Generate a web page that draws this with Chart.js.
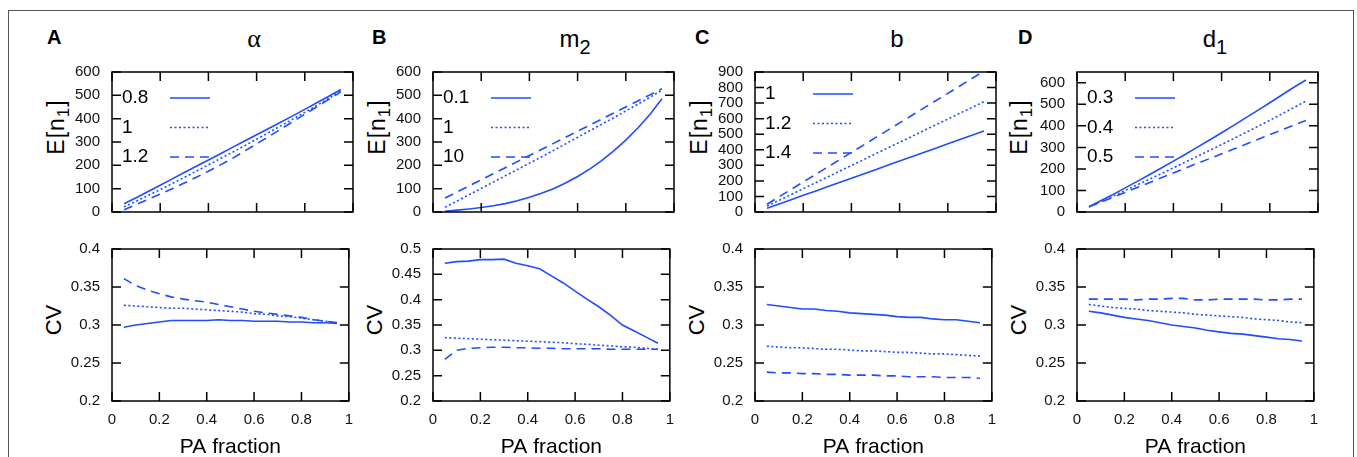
<!DOCTYPE html>
<html>
<head>
<meta charset="utf-8">
<title>E[n1] and CV against PA fraction</title>
<script src="https://cdn.jsdelivr.net/npm/chart.js@4.4.1/dist/chart.umd.min.js"></script>
<style>
  body { margin: 0; background: #fff; font-family: 'Liberation Sans', Arial, sans-serif; }
  #fig { position: relative; width: 1357px; height: 457px; overflow: hidden; }
  .frame { position: absolute; left: 8px; top: 10px; width: 1346px; height: 480px; border: 1.5px solid #555; box-sizing: border-box; }
  .plot { position: absolute; }
  .letter { position: absolute; top: 27px; font-weight: bold; font-size: 20px; line-height: 20px; }
  .ptitle { position: absolute; top: 27px; font-size: 24px; line-height: 24px; transform: translateX(-50%); white-space: nowrap; }
  .ptitle sub { font-size: 20px; vertical-align: -7px; line-height: 0; }
  .greek { font-family: 'Liberation Serif', 'DejaVu Serif', serif; font-size: 26px; }
  .ylab { position: absolute; font-size: 22px; line-height: 22px; white-space: nowrap;
          transform: translate(-50%, -50%) rotate(-90deg); }
  .ylab.mean { font-size: 23px; letter-spacing: 1px; }
  .ylab sub { font-size: 17px; vertical-align: -5px; line-height: 0; }
</style>
</head>
<body>
<div id="fig">
  <div class="frame"></div>

  <div class="letter" style="left:47px">A</div>
  <div class="letter" style="left:372px">B</div>
  <div class="letter" style="left:695px">C</div>
  <div class="letter" style="left:1018px">D</div>

  <div class="ptitle greek" style="left:254px">α</div>
  <div class="ptitle" style="left:575px">m<sub>2</sub></div>
  <div class="ptitle" style="left:897px">b</div>
  <div class="ptitle" style="left:1215px">d<sub>1</sub></div>

  <div class="ylab mean" style="left:56px; top:127px">E[n<sub>1</sub>]</div>
  <div class="ylab mean" style="left:377px; top:127px">E[n<sub>1</sub>]</div>
  <div class="ylab mean" style="left:699px; top:127px">E[n<sub>1</sub>]</div>
  <div class="ylab mean" style="left:1019px; top:127px">E[n<sub>1</sub>]</div>
  <div class="ylab" style="left:54px; top:320px">CV</div>
  <div class="ylab" style="left:375px; top:320px">CV</div>
  <div class="ylab" style="left:697px; top:320px">CV</div>
  <div class="ylab" style="left:1019px; top:320px">CV</div>

  <canvas class="plot" id="aTop"></canvas>
  <canvas class="plot" id="aBottom"></canvas>
  <canvas class="plot" id="bTop"></canvas>
  <canvas class="plot" id="bBottom"></canvas>
  <canvas class="plot" id="cTop"></canvas>
  <canvas class="plot" id="cBottom"></canvas>
  <canvas class="plot" id="dTop"></canvas>
  <canvas class="plot" id="dBottom"></canvas>
</div>

<script>
// x values shared by every curve
const paFraction = [0.05, 0.10, 0.15, 0.20, 0.25, 0.30, 0.35, 0.40, 0.45, 0.50,
                    0.55, 0.60, 0.65, 0.70, 0.75, 0.80, 0.85, 0.90, 0.95];

// tick labels
const xTicks = [0, 0.2, 0.4, 0.6, 0.8, 1];
const meanTicks600 = [0, 100, 200, 300, 400, 500, 600];
const meanTicks900 = [0, 100, 200, 300, 400, 500, 600, 700, 800, 900];
const cvTicks = [0.2, 0.25, 0.3, 0.35, 0.4];
const cvTicksWide = [0.2, 0.25, 0.3, 0.35, 0.4, 0.45, 0.5];

// A: alpha
const alphaLabels = ['0.8', '1', '1.2'];
const alphaMean08 = [35, 61, 88, 115, 142, 169, 196, 223, 250, 277, 304, 331, 358, 385, 412, 440, 468, 496, 525];
const alphaMean1 = [22, 46, 71, 96, 122, 148, 175, 202, 229, 256, 284, 312, 340, 369, 398, 427, 457, 487, 520];
const alphaMean12 = [10, 32, 54, 77, 100, 124, 149, 175, 202, 230, 261, 292, 323, 355, 387, 419, 451, 483, 515];
const alphaCv08 = [0.297, 0.300, 0.302, 0.304, 0.306, 0.306, 0.306, 0.306, 0.307, 0.306, 0.306, 0.305, 0.305, 0.305, 0.304, 0.304, 0.303, 0.303, 0.302];
const alphaCv1 = [0.326, 0.325, 0.324, 0.323, 0.322, 0.322, 0.321, 0.320, 0.319, 0.318, 0.317, 0.315, 0.314, 0.312, 0.311, 0.309, 0.307, 0.305, 0.303];
const alphaCv12 = [0.361, 0.352, 0.346, 0.341, 0.337, 0.334, 0.332, 0.330, 0.327, 0.324, 0.321, 0.318, 0.316, 0.314, 0.312, 0.310, 0.307, 0.305, 0.303];

// B: m2
const m2Labels = ['0.1', '1', '10'];
const m2Mean01 = [3, 8, 13, 19, 27, 36, 48, 63, 80, 100, 124, 152, 184, 220, 262, 308, 360, 418, 485];
const m2Mean1 = [20, 47, 74, 101, 128, 155, 182, 209, 236, 264, 292, 320, 348, 376, 404, 433, 462, 492, 522];
const m2Mean10 = [60, 86, 112, 138, 164, 190, 216, 242, 268, 294, 320, 346, 372, 398, 424, 450, 476, 502, 528];
const m2Cv01 = [0.472, 0.475, 0.476, 0.479, 0.479, 0.480, 0.472, 0.467, 0.461, 0.447, 0.433, 0.417, 0.401, 0.386, 0.369, 0.350, 0.338, 0.326, 0.314];
const m2Cv1 = [0.325, 0.324, 0.323, 0.322, 0.321, 0.320, 0.319, 0.318, 0.317, 0.316, 0.315, 0.313, 0.312, 0.310, 0.309, 0.307, 0.306, 0.304, 0.302];
const m2Cv10 = [0.282, 0.300, 0.304, 0.305, 0.306, 0.306, 0.305, 0.305, 0.304, 0.304, 0.303, 0.303, 0.303, 0.303, 0.302, 0.302, 0.302, 0.302, 0.302];

// C: b
const bLabels = ['1', '1.2', '1.4'];
const bMean1 = [24, 52, 79, 107, 134, 162, 190, 217, 245, 272, 300, 328, 355, 383, 410, 438, 466, 493, 521];
const bMean12 = [38, 75, 112, 150, 187, 224, 262, 299, 336, 374, 411, 448, 485, 523, 560, 597, 635, 672, 709];
const bMean14 = [50, 98, 145, 193, 240, 288, 335, 383, 430, 478, 525, 573, 620, 668, 715, 763, 810, 858, 905];
const bCv1 = [0.327, 0.325, 0.323, 0.321, 0.321, 0.319, 0.318, 0.316, 0.315, 0.314, 0.313, 0.311, 0.310, 0.310, 0.308, 0.307, 0.307, 0.305, 0.303];
const bCv12 = [0.272, 0.271, 0.270, 0.270, 0.269, 0.268, 0.268, 0.267, 0.266, 0.266, 0.265, 0.264, 0.264, 0.263, 0.262, 0.262, 0.261, 0.260, 0.259];
const bCv14 = [0.238, 0.237, 0.237, 0.236, 0.236, 0.235, 0.235, 0.234, 0.234, 0.234, 0.233, 0.233, 0.232, 0.232, 0.232, 0.231, 0.231, 0.231, 0.230];

// D: d1
const d1Labels = ['0.3', '0.4', '0.5'];
const d1Mean03 = [24, 53, 82, 112, 142, 173, 204, 236, 268, 301, 334, 368, 402, 437, 472, 507, 543, 579, 613];
const d1Mean04 = [24, 49, 74, 100, 126, 152, 178, 205, 232, 259, 286, 313, 341, 369, 397, 426, 455, 485, 515];
const d1Mean05 = [24, 46, 69, 91, 114, 136, 159, 181, 204, 226, 248, 270, 292, 314, 337, 359, 381, 403, 425];
const d1Cv03 = [0.318, 0.316, 0.313, 0.310, 0.308, 0.306, 0.303, 0.300, 0.298, 0.296, 0.293, 0.291, 0.289, 0.288, 0.286, 0.284, 0.282, 0.281, 0.279];
const d1Cv04 = [0.327, 0.325, 0.323, 0.322, 0.321, 0.319, 0.318, 0.317, 0.316, 0.314, 0.313, 0.312, 0.311, 0.310, 0.308, 0.307, 0.306, 0.304, 0.303];
const d1Cv05 = [0.334, 0.334, 0.334, 0.334, 0.333, 0.334, 0.334, 0.335, 0.335, 0.333, 0.333, 0.334, 0.334, 0.334, 0.334, 0.333, 0.333, 0.334, 0.334];

const LINE_COLOR = '#1f4dff';
const FONT = "'Liberation Sans', Arial, sans-serif";
const lineDashes = [[], [2, 2.5], [9, 6]];

// gnuplot style box with ticks pointing inwards on all four sides
const frameTicks = {
    id: 'frameTicks',
    afterDatasetsDraw(chart) {
        const { ctx, chartArea: a, scales: { x, y } } = chart;
        const len = 9;
        ctx.save();
        ctx.strokeStyle = '#000';
        ctx.lineWidth = 1.5;
        ctx.setLineDash([]);
        ctx.beginPath();
        x.ticks.forEach(t => {
            const px = x.getPixelForValue(t.value);
            ctx.moveTo(px, a.bottom); ctx.lineTo(px, a.bottom - len);
            ctx.moveTo(px, a.top); ctx.lineTo(px, a.top + len);
        });
        y.ticks.forEach(t => {
            const py = y.getPixelForValue(t.value);
            ctx.moveTo(a.left, py); ctx.lineTo(a.left + len, py);
            ctx.moveTo(a.right, py); ctx.lineTo(a.right - len, py);
        });
        ctx.stroke();
        ctx.strokeRect(a.left, a.top, a.right - a.left, a.bottom - a.top);
        ctx.restore();
    }
};

// key drawn inside the plot: label first, then a sample of the line
const insideLegend = {
    id: 'insideLegend',
    afterDatasetsDraw(chart, args, opts) {
        if (!opts.show) return;
        const { ctx, chartArea: a } = chart;
        ctx.save();
        ctx.font = '19px ' + FONT;
        ctx.textBaseline = 'middle';
        ctx.fillStyle = '#000';
        chart.data.datasets.forEach((ds, i) => {
            const y = a.top + opts.top + i * 29.5;
            ctx.fillText(ds.label, a.left + 10, y);
            ctx.strokeStyle = ds.borderColor;
            ctx.lineWidth = ds.borderWidth;
            ctx.setLineDash(ds.borderDash);
            ctx.beginPath();
            ctx.moveTo(a.left + 58, y);
            ctx.lineTo(a.left + 98, y);
            ctx.stroke();
        });
        ctx.restore();
    }
};

function tickText(v) {
    return String(Math.round(v * 100) / 100);
}

function makePlot(id, cfg) {
    const canvas = document.getElementById(id);
    const isTop = cfg.row === 'top';
    const width = 70 + 241 + 10;
    const height = isTop ? 182 : 232;
    canvas.width = width;
    canvas.height = height;
    canvas.style.left = (cfg.plotLeft - 70) + 'px';
    canvas.style.top = (isTop ? 51 : 228) + 'px';

    new Chart(canvas.getContext('2d'), {
        type: 'line',
        data: {
            datasets: cfg.series.map((values, i) => ({
                label: cfg.labels[i],
                data: paFraction.map((x, j) => ({ x: x, y: values[j] })),
                borderColor: LINE_COLOR,
                borderWidth: 1.6,
                borderDash: lineDashes[i],
                pointRadius: 0,
                fill: false,
                tension: 0
            }))
        },
        options: {
            responsive: false,
            animation: false,
            devicePixelRatio: 1,
            layout: { padding: { left: 0, right: 10, top: 10, bottom: 0 } },
            plugins: {
                legend: { display: false },
                tooltip: { enabled: false },
                insideLegend: { show: isTop, top: cfg.legendTop || 26 }
            },
            scales: {
                x: {
                    type: 'linear',
                    min: 0,
                    max: 1,
                    grid: { display: false, drawTicks: false },
                    border: { display: false },
                    afterBuildTicks: s => { s.ticks = xTicks.map(v => ({ value: v })); },
                    afterFit: s => { s.height = isTop ? 12 : 59; },
                    ticks: {
                        display: !isTop,
                        padding: 10,
                        color: '#111',
                        font: { family: FONT, size: 15 },
                        callback: tickText
                    },
                    title: {
                        display: !isTop,
                        text: 'PA fraction',
                        color: '#000',
                        font: { family: FONT, size: 21 },
                        padding: { top: 0, bottom: 0 }
                    }
                },
                y: {
                    min: cfg.yMin,
                    max: cfg.yMax,
                    grid: { display: false, drawTicks: false },
                    border: { display: false },
                    afterBuildTicks: s => { s.ticks = cfg.yTicks.map(v => ({ value: v })); },
                    afterFit: s => { s.width = 70; },
                    ticks: {
                        padding: 12,
                        autoSkip: false,
                        color: '#111',
                        font: { family: FONT, size: 15 },
                        callback: tickText
                    }
                }
            }
        },
        plugins: [frameTicks, insideLegend]
    });
}

document.addEventListener('DOMContentLoaded', function() {
    makePlot('aTop', { row: 'top', plotLeft: 112, labels: alphaLabels,
        series: [alphaMean08, alphaMean1, alphaMean12], yMin: 0, yMax: 600, yTicks: meanTicks600 });
    makePlot('aBottom', { row: 'bottom', plotLeft: 112, labels: alphaLabels,
        series: [alphaCv08, alphaCv1, alphaCv12], yMin: 0.2, yMax: 0.4, yTicks: cvTicks });

    makePlot('bTop', { row: 'top', plotLeft: 433, labels: m2Labels,
        series: [m2Mean01, m2Mean1, m2Mean10], yMin: 0, yMax: 600, yTicks: meanTicks600 });
    makePlot('bBottom', { row: 'bottom', plotLeft: 433, labels: m2Labels,
        series: [m2Cv01, m2Cv1, m2Cv10], yMin: 0.2, yMax: 0.5, yTicks: cvTicksWide });

    makePlot('cTop', { row: 'top', plotLeft: 755, labels: bLabels, legendTop: 22,
        series: [bMean1, bMean12, bMean14], yMin: 0, yMax: 900, yTicks: meanTicks900 });
    makePlot('cBottom', { row: 'bottom', plotLeft: 755, labels: bLabels,
        series: [bCv1, bCv12, bCv14], yMin: 0.2, yMax: 0.4, yTicks: cvTicks });

    makePlot('dTop', { row: 'top', plotLeft: 1077, labels: d1Labels,
        series: [d1Mean03, d1Mean04, d1Mean05], yMin: 0, yMax: 650, yTicks: meanTicks600 });
    makePlot('dBottom', { row: 'bottom', plotLeft: 1077, labels: d1Labels,
        series: [d1Cv03, d1Cv04, d1Cv05], yMin: 0.2, yMax: 0.4, yTicks: cvTicks });
});
</script>
</body>
</html>
